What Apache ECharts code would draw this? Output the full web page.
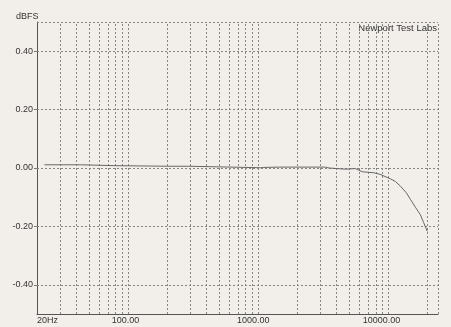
<!DOCTYPE html>
<html><head><meta charset="utf-8">
<script src="https://cdn.jsdelivr.net/npm/echarts@6/dist/echarts.min.js"></script>
<style>html,body{margin:0;padding:0;background:#f2efea}#c{width:451px;height:327px}</style>
</head><body><div id="c"></div>
<script>
// Frequency response data (Hz, dBFS)
const freqHz = [22.8, 43, 44, 80, 81, 200, 290, 300, 1040, 1100, 1456, 2500, 3280, 3500, 4670, 5570, 6300, 7650, 8650, 10330, 11290, 12340, 13710, 14720, 16080, 17570, 18620, 19860];
const levelDbfs = [0.011, 0.011, 0.008, 0.008, 0.007, 0.006, 0.006, 0.002, 0.001, 0.002, 0.003, 0.003, 0.003, 0.0, -0.004, -0.002, -0.013, -0.016, -0.022, -0.037, -0.046, -0.062, -0.085, -0.107, -0.134, -0.160, -0.187, -0.217];
// Grid / tick definitions
const xMin = 20, xMax = 24000;
const gridFreqs = [30,40,50,60,70,80,90,100,200,300,400,500,600,700,800,900,1000,2000,3000,4000,5000,6000,7000,8000,9000,10000,20000,24000];
const yGridValues = [-0.4, -0.2, 0, 0.2, 0.4, 0.5];
const yLabelValues = [-0.4, -0.2, 0, 0.2, 0.4];
const xTickLabels = {20: '20Hz', 100: '100.00', 1000: '1000.00', 10000: '10000.00'};

const chart = echarts.init(document.getElementById('c'), null, {renderer: 'canvas'});
const gridStyle = {color: '#858585', width: 1, type: [2, 2]};
const markData = [];
gridFreqs.forEach(f => markData.push({xAxis: f}));
yGridValues.forEach(v => markData.push({yAxis: v}));

chart.setOption({
  backgroundColor: '#f2efea',
  animation: false,
  textStyle: {fontFamily: 'Liberation Sans, Arial, sans-serif'},
  title: [{
    text: 'dBFS', left: 11, top: 7,
    textStyle: {fontSize: 9, fontWeight: 'normal', color: '#333'}
  }],
  graphic: [{
    type: 'text', right: 14, top: 23,
    style: {text: 'Newport Test Labs', fontSize: 9.5, fill: '#333', fontFamily: 'Liberation Sans, Arial, sans-serif'}
  }],
  grid: {left: 37, right: 13, top: 22, bottom: 13, containLabel: false},
  xAxis: {
    type: 'log', logBase: 10, min: xMin, max: xMax,
    axisLine: {show: true, onZero: false, lineStyle: {color: '#555', width: 1}},
    axisTick: {show: false},
    splitLine: {show: false},
    minorSplitLine: {show: false},
    axisLabel: {
      show: true, margin: 2, fontSize: 9, color: '#333',
      showMinLabel: true, showMaxLabel: false, alignMinLabel: 'left',
      formatter: function (v) {
        const key = Math.round(v);
        const t = xTickLabels[key];
        if (!t) return '';
        if (key === 20) return t;
        const digits = String(key).length;
        return '{p' + digits + '|' + t + '}';
      },
      rich: {
        p3: {padding: [0, 5, 0, 0], fontSize: 9, color: '#333'},
        p4: {padding: [0, 10, 0, 0], fontSize: 9, color: '#333'},
        p5: {padding: [0, 14, 0, 0], fontSize: 9, color: '#333'}
      }
    }
  },
  yAxis: {
    type: 'value', min: -0.5, max: 0.5, interval: 0.1,
    axisLine: {show: true, onZero: false, lineStyle: {color: '#555', width: 1}},
    axisTick: {show: true, length: 3, customValues: yLabelValues, lineStyle: {color: '#777'}},
    splitLine: {show: false},
    axisLabel: {
      margin: 4, fontSize: 9, color: '#333',
      formatter: function (v) {
        const k = Math.round(v * 10);
        if (Math.abs(k) % 2 !== 0 || Math.abs(k) === 5) return '';
        return (k / 10).toFixed(2);
      }
    }
  },
  series: [{
    type: 'line',
    data: freqHz.map((f, i) => [f, levelDbfs[i]]),
    showSymbol: false,
    lineStyle: {color: '#666', width: 1},
    z: 5,
    markLine: {
      silent: true, symbol: 'none', animation: false,
      label: {show: false},
      lineStyle: gridStyle,
      data: markData
    }
  }]
});
</script>
</body></html>
